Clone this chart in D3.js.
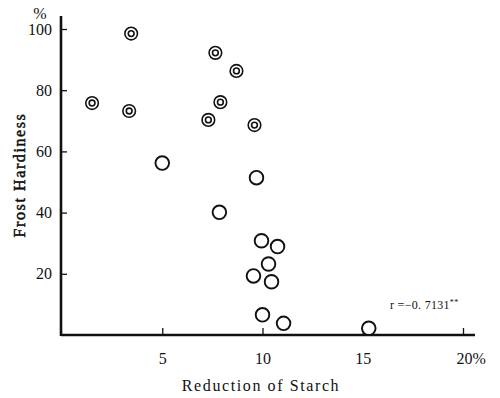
<!DOCTYPE html>
<html>
<head>
<meta charset="utf-8">
<script src="https://cdn.jsdelivr.net/npm/d3@7"></script>
<style>
	body { margin: 0; background: #fff; }
	svg text { font-family: 'Liberation Serif', 'DejaVu Serif', serif; fill: #111; }
</style>
</head>
<body>
<div id="chart"></div>
<script>
// hardy group (double circles)
const hardyStarch = [1.5, 3.45, 3.35, 7.65, 8.7, 7.9, 7.3, 9.6];
const hardyFrost = [75.8, 98.5, 73.2, 92.2, 86.3, 76.1, 70.3, 68.6];
// other samples (single circles)
const otherStarch = [5.0, 9.7, 7.85, 9.95, 10.75, 10.3, 9.55, 10.45, 10.0, 11.05, 15.3];
const otherFrost = [56.2, 51.4, 40.1, 30.8, 28.9, 23.2, 19.3, 17.4, 6.6, 3.8, 2.2];
const xTicks = [5, 10, 15, 20];
const yTicks = [20, 40, 60, 80, 100];
const corrLabel = 'r =\u22120. 7131';

const W = 500;
const H = 398;
const m = { left: 62, right: 37, top: 29, bottom: 63 };

const svg = d3
	.select('#chart')
	.append('svg')
	.attr('width', W)
	.attr('height', H);

const x = d3.scaleLinear().domain([0, 20]).range([m.left, W - m.right]);
const y = d3.scaleLinear().domain([0, 100]).range([H - m.bottom, m.top]);

const x0 = x(0) - 1;
const y0 = y(0);

// axis lines
svg.append('line')
	.attr('x1', x0).attr('x2', x0)
	.attr('y1', 16).attr('y2', y0 + 1)
	.attr('stroke', '#111').attr('stroke-width', 2.6);
svg.append('line')
	.attr('x1', x0).attr('x2', 475)
	.attr('y1', y0).attr('y2', y0)
	.attr('stroke', '#111').attr('stroke-width', 2.4);

const xAxis = d3.axisBottom(x)
	.tickValues(xTicks)
	.tickSize(-7)
	.tickPadding(18)
	.tickFormat((d) => (d === 20 ? '20%' : d));

const gx = svg.append('g')
	.attr('transform', 'translate(0,' + y0 + ')')
	.call(xAxis);
gx.select('.domain').remove();
gx.selectAll('.tick line').attr('stroke', '#111').attr('stroke-width', 1.3);
gx.selectAll('text')
	.style('font-size', '16px')
	.style('font-family', "'Liberation Serif', serif")
	.attr('fill', '#111');
gx.selectAll('text')
	.filter((d) => d === 20)
	.attr('text-anchor', 'start')
	.attr('x', -7);

const yAxis = d3.axisLeft(y)
	.tickValues(yTicks)
	.tickSize(-6)
	.tickPadding(9);

const gy = svg.append('g')
	.attr('transform', 'translate(' + x0 + ',0)')
	.call(yAxis);
gy.select('.domain').remove();
gy.selectAll('.tick line').attr('stroke', '#111').attr('stroke-width', 1.3);
gy.selectAll('text')
	.style('font-size', '16px')
	.style('font-family', "'Liberation Serif', serif")
	.attr('fill', '#111');

svg.append('text')
	.attr('x', 40).attr('y', 19)
	.attr('text-anchor', 'middle')
	.style('font-size', '16px')
	.text('%');

// axis titles
svg.append('text')
	.attr('x', 261).attr('y', 391)
	.attr('text-anchor', 'middle')
	.style('font-size', '16px')
	.style('letter-spacing', '1.6px')
	.text('Reduction of Starch');

svg.append('text')
	.attr('transform', 'translate(25,175) rotate(-90)')
	.attr('text-anchor', 'middle')
	.style('font-size', '16px')
	.style('letter-spacing', '1.6px')
	.attr('stroke', '#111')
	.attr('stroke-width', 0.5)
	.text('Frost Hardiness');

// points
const hardy = hardyStarch.map((s, i) => ({ s: s, f: hardyFrost[i] }));
const other = otherStarch.map((s, i) => ({ s: s, f: otherFrost[i] }));

svg.selectAll('.outer')
	.data(hardy)
	.enter()
	.append('circle')
	.attr('class', 'outer')
	.attr('cx', (d) => x(d.s))
	.attr('cy', (d) => y(d.f))
	.attr('r', 6.3)
	.attr('fill', '#fff')
	.attr('stroke', '#111')
	.attr('stroke-width', 1.6);

svg.selectAll('.inner')
	.data(hardy)
	.enter()
	.append('circle')
	.attr('class', 'inner')
	.attr('cx', (d) => x(d.s))
	.attr('cy', (d) => y(d.f))
	.attr('r', 2.9)
	.attr('fill', 'none')
	.attr('stroke', '#111')
	.attr('stroke-width', 1.6);

svg.selectAll('.single')
	.data(other)
	.enter()
	.append('circle')
	.attr('class', 'single')
	.attr('cx', (d) => x(d.s))
	.attr('cy', (d) => y(d.f))
	.attr('r', 6.8)
	.attr('fill', '#fff')
	.attr('stroke', '#111')
	.attr('stroke-width', 1.9);

// correlation note
const note = svg.append('text')
	.attr('x', 390).attr('y', 309)
	.style('font-size', '12px')
	.style('letter-spacing', '0.3px');
note.append('tspan').text(corrLabel);
note.append('tspan')
	.attr('dy', -4)
	.style('font-size', '8px')
	.text('**');
</script>
</body>
</html>
